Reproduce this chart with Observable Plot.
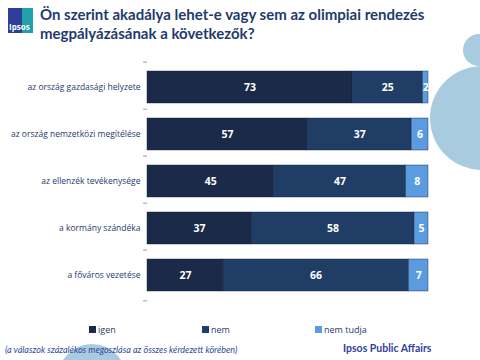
<!DOCTYPE html>
<html><head><meta charset="utf-8">
<script src="https://cdn.jsdelivr.net/npm/d3@7"></script>
<script src="https://cdn.jsdelivr.net/npm/@observablehq/plot@0.6"></script>
<style>
body{margin:0;background:#fff;font-family:"Open Sans",Calibri,sans-serif;}
#wrap{position:relative;width:480px;height:360px;overflow:hidden;background:#fff;}
.abs{position:absolute;}
#title{left:40px;top:5px;font-family:Lato,sans-serif;font-weight:bold;font-size:15px;line-height:19px;color:#1f3b6c;white-space:nowrap;}
#logo{left:8px;top:8px;width:25px;height:25px;background:linear-gradient(90deg,#2d3f99 55%,#20a0a8 55%);color:#fff;font-size:8px;font-weight:bold;}
#logo span{position:absolute;left:1px;bottom:1px;}
.circ{border-radius:50%;background:#a9cbdf;}
#legend{left:0;top:323px;width:480px;height:14px;font-size:9px;color:#1f3b6c;}
.li{position:absolute;top:0;}
.sw{display:inline-block;width:7px;height:7px;margin-right:2px;}
#foot{left:5px;top:344px;font-family:Lato,sans-serif;font-size:9px;font-style:italic;color:#2d4a9a;}
#brand{left:343px;top:342px;font-family:Lato,sans-serif;font-size:10.5px;font-weight:bold;color:#3340a0;}
#chart{left:0;top:0;}
</style></head>
<body><div id="wrap">
<div class="abs circ" style="left:430px;top:66px;width:104px;height:104px;"></div>
<div class="abs circ" style="left:463px;top:34px;width:32px;height:32px;"></div>
<div class="abs circ" style="left:58px;top:344px;width:68px;height:68px;"></div>
<div id="chart" class="abs"></div>
<div id="logo" class="abs"><span>Ipsos</span></div>
<div id="title" class="abs">Ön szerint akadálya lehet-e vagy sem az olimpiai rendezés<br>megpályázásának a következők?</div>
<div id="legend" class="abs"></div>
<div id="foot" class="abs">(a válaszok százalékos megoszlása az összes kérdezett körében)</div>
<div id="brand" class="abs">Ipsos Public Affairs</div>
</div>
<script>
const categories = ["az ország gazdasági helyzete","az ország nemzetközi megítélése","az ellenzék tevékenysége","a kormány szándéka","a főváros vezetése"];
const seriesNames = ["igen","nem","nem tudja"];
const igen = [73,57,45,37,27];
const nem = [25,37,47,58,66];
const nemTudja = [2,6,8,5,7];
const colors = ["#1a2a48","#1f3d65","#5b9be0"];

const rows = [];
categories.forEach((c,i)=>{
  [igen[i],nem[i],nemTudja[i]].forEach((v,j)=>rows.push({cat:c, series:seriesNames[j], value:v, order:j}));
});

const chart = Plot.plot({
  width:480, height:320,
  marginLeft:147, marginRight:52, marginTop:54, marginBottom:12,
  style:{background:"transparent", fontFamily:"'Open Sans',sans-serif"},
  x:{domain:[0,100], axis:null},
  y:{domain:categories, padding:0.31, label:null},
  color:{domain:seriesNames, range:colors},
  marks:[
    Plot.axisY({tickSize:0, tickPadding:7, fontSize:8.5, fill:"#1f3b6c", label:null}),
    Plot.ruleX([0],{stroke:"#999", y1:categories[0], y2:categories[4], insetTop:-25.4, insetBottom:-25.4}),
    Plot.ruleY(categories,{y:d=>d, x1:-1.4, x2:0, dy:-25.4, stroke:"#999"}),
    Plot.ruleY([categories[4]],{y:d=>d, x1:-1.4, x2:0, dy:25.4, stroke:"#999"}),
    Plot.barX(rows, Plot.stackX({x:"value", y:"cat", fill:"series", order:"order", stroke:"#10203a", strokeWidth:0.6, strokeOpacity:0.7})),
    Plot.text(rows, Plot.stackX({x:"value", y:"cat", order:"order", text:d=>String(d.value), fill:"#fff", fontWeight:"bold", fontSize:10.5})),
  ]
});
document.getElementById("chart").appendChild(chart);

const leg = document.getElementById("legend");
const legX = [89,202,315];
seriesNames.forEach((s,j)=>{
  const d=document.createElement("div");
  d.className="li"; d.style.left=legX[j]+"px";
  d.innerHTML=`<span class="sw" style="background:${colors[j]}"></span>${s}`;
  leg.appendChild(d);
});
</script>
</body></html>
